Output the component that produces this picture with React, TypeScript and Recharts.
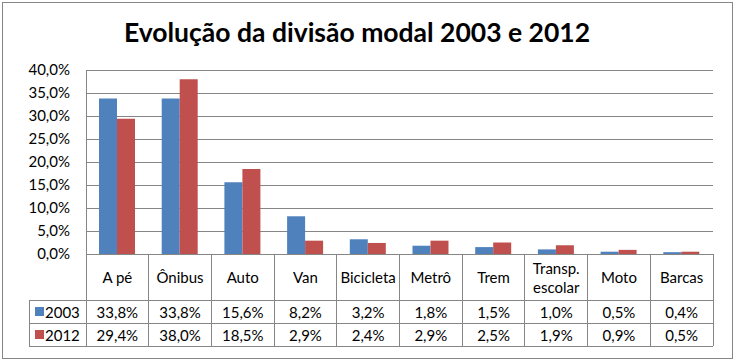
import { Bar, BarChart, CartesianGrid, XAxis, YAxis } from "recharts";

const categories = ["A pé", "Ônibus", "Auto", "Van", "Bicicleta", "Metrô", "Trem", "Transp.\nescolar", "Moto", "Barcas"];
const values2003 = [33.8, 33.8, 15.6, 8.2, 3.2, 1.8, 1.5, 1.0, 0.5, 0.4];
const values2012 = [29.4, 38.0, 18.5, 2.9, 2.4, 2.9, 2.5, 1.9, 0.9, 0.5];
const yTicks = [0, 5, 10, 15, 20, 25, 30, 35, 40];
const seriesNames = ["2003", "2012"];

const BLUE = "#4F81BD";
const RED = "#C0504D";
const LINE = "#868686";
const FONT = "Lato, 'Open Sans', sans-serif";
const FS = 15;

const data = categories.map((name, i) => ({
  name,
  v2003: values2003[i],
  v2012: values2012[i],
}));

const pct = (v: number) => `${v.toFixed(1).replace(".", ",")}%`;

// header row + two value rows under the plot
const HEADER_H = 46;
const ROW_H = 23;

function TableTick(props: any) {
  const { x, y, payload, index } = props;
  const half = payload?.offset || 31.35;
  const left = x - half;
  const right = x + half;
  const bottom = y + HEADER_H + ROW_H * 2;
  const lines = String(payload.value).split("\n");
  const row = data[index];

  return (
    <g>
      <g shapeRendering="crispEdges">
        <line x1={left} y1={y} x2={left} y2={bottom} stroke={LINE} />
        <line x1={right} y1={y} x2={right} y2={bottom} stroke={LINE} />
        <line x1={left} y1={y + HEADER_H} x2={right} y2={y + HEADER_H} stroke={LINE} />
        <line x1={left} y1={y + HEADER_H + ROW_H} x2={right} y2={y + HEADER_H + ROW_H} stroke={LINE} />
        <line x1={left} y1={bottom} x2={right} y2={bottom} stroke={LINE} />
      </g>
      {lines.map((t, k) => (
        <text
          key={k}
          x={x}
          y={y + HEADER_H / 2 + (k - (lines.length - 1) / 2) * 19}
          textAnchor="middle"
          dominantBaseline="central"
          fontSize={FS}
          fill="#000"
          fontFamily={FONT}
        >
          {t}
        </text>
      ))}
      {[row.v2003, row.v2012].map((v, k) => (
        <text
          key={k}
          x={x}
          y={y + HEADER_H + ROW_H * k + ROW_H / 2}
          textAnchor="middle"
          dominantBaseline="central"
          fontSize={FS}
          fill="#000"
          fontFamily={FONT}
        >
          {pct(v)}
        </text>
      ))}
      {index === 0 && (
        <g>
          <g shapeRendering="crispEdges">
            <line x1={left - 57} y1={y + HEADER_H} x2={left} y2={y + HEADER_H} stroke={LINE} />
            <line x1={left - 57} y1={y + HEADER_H + ROW_H} x2={left} y2={y + HEADER_H + ROW_H} stroke={LINE} />
            <line x1={left - 57} y1={bottom} x2={left} y2={bottom} stroke={LINE} />
            <line x1={left - 57} y1={y + HEADER_H} x2={left - 57} y2={bottom} stroke={LINE} />
          </g>
          {seriesNames.map((s, k) => (
            <g key={s}>
              <rect
                x={left - 51}
                y={y + HEADER_H + ROW_H * k + ROW_H / 2 - 4.5}
                width={9}
                height={9}
                fill={k === 0 ? BLUE : RED}
              />
              <text
                x={left - 41}
                y={y + HEADER_H + ROW_H * k + ROW_H / 2}
                dominantBaseline="central"
                fontSize={FS}
                fill="#000"
                fontFamily={FONT}
              >
                {s}
              </text>
            </g>
          ))}
        </g>
      )}
    </g>
  );
}

export default function App() {
  return (
    <div style={{ position: "absolute", left: 0, top: 0, width: 734, height: 362, background: "#fff" }}>
      <div
        style={{
          position: "absolute",
          left: 2,
          top: 2,
          width: 729,
          height: 355,
          border: `1px solid ${LINE}`,
        }}
      />
      <div
        style={{
          position: "absolute",
          left: 0,
          top: 16,
          width: 714,
          textAlign: "center",
          fontFamily: FONT,
          fontWeight: 700,
          fontSize: 26.5,
          lineHeight: "32px",
          color: "#000",
        }}
      >
        Evolução da divisão modal 2003 e 2012
      </div>
      <div style={{ position: "absolute", left: 0, top: 0 }}>
        <BarChart
          width={734}
          height={362}
          data={data}
          margin={{ top: 70, right: 21, bottom: 0, left: 26 }}
          barSize={18}
          barGap={0}
        >
          <CartesianGrid vertical={false} stroke={LINE} shapeRendering="crispEdges" />
          <XAxis
            dataKey="name"
            interval={0}
            height={108}
            tickLine={false}
            tickSize={0}
            tickMargin={0}
            axisLine={{ stroke: LINE, shapeRendering: "crispEdges" }}
            tick={<TableTick />}
          />
          <YAxis
            width={60}
            domain={[0, 40]}
            ticks={yTicks}
            interval={0}
            tickLine={false}
            tickSize={0}
            tickMargin={16}
            axisLine={{ stroke: LINE, shapeRendering: "crispEdges" }}
            tickFormatter={pct}
            tick={{ fontSize: FS, fill: "#000", fontFamily: FONT }}
          />
          <Bar dataKey="v2003" name="2003" fill={BLUE} isAnimationActive={false} />
          <Bar dataKey="v2012" name="2012" fill={RED} isAnimationActive={false} />
        </BarChart>
      </div>
    </div>
  );
}
